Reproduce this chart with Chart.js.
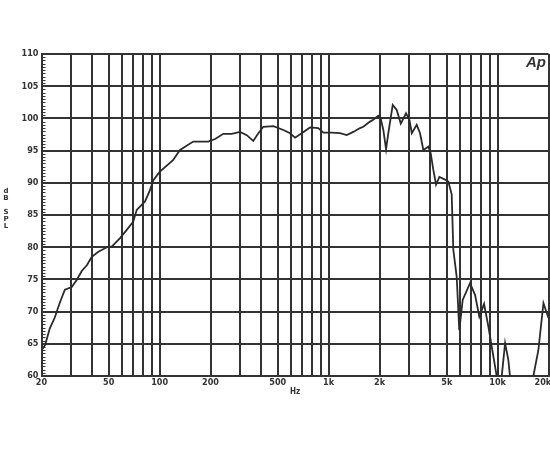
<!DOCTYPE html>
<html>
<head>
<meta charset="utf-8">
<script src="https://cdn.jsdelivr.net/npm/chart.js@4"></script>
<style>
  html, body { margin: 0; padding: 0; background: #fff; }
  #wrap { width: 550px; height: 450px; }
</style>
</head>
<body>
<div id="wrap"><canvas id="resp" width="550" height="450"></canvas></div>
<script>
// frequency response (Hz / dB SPL)
const freqs = [20, 21, 22.4, 23.9, 25.6, 27.5, 30.2, 32.3, 34.6, 37.1, 39.7, 43.4, 49.7, 52.1, 58.3, 63.9, 69.9, 73.2, 82, 87.8,
    91.8, 100, 120, 132, 158, 194, 213, 238, 267, 299, 328, 358, 384, 411, 471, 540, 591, 633, 693, 776,
    869, 931, 1043, 1167, 1280, 1400, 1534, 1604, 1758, 1837, 1967, 2032, 2107, 2187, 2255, 2395, 2529, 2672, 2871, 3005,
    3105, 3322, 3475, 3634, 3890, 4017, 4165, 4322, 4521, 4885, 5108, 5348, 5468, 5725, 5930, 6213, 6863, 7353, 7793, 8312,
    8813, 9885, 10300, 11070, 11570, 11840, 13500, 16270, 17420, 18670, 20000];
const spl = [64.0, 64.8, 67.4, 69.0, 71.3, 73.4, 73.8, 74.9, 76.3, 77.2, 78.5, 79.3, 80.1, 80.1, 81.4, 82.7, 84.0, 85.8, 87.1, 88.9,
    90.4, 91.7, 93.5, 95.1, 96.4, 96.4, 96.8, 97.6, 97.6, 97.9, 97.4, 96.5, 97.7, 98.7, 98.8, 98.2, 97.7, 97.0, 97.7, 98.6,
    98.5, 97.8, 97.8, 97.7, 97.4, 97.9, 98.5, 98.7, 99.5, 99.8, 100.4, 100.0, 98.2, 95.2, 97.7, 102.1, 101.3, 99.2, 100.8, 99.8,
    97.7, 99.0, 97.7, 95.1, 95.6, 94.6, 92.0, 89.7, 90.9, 90.5, 90.2, 88.2, 79.6, 75.4, 67.1, 71.8, 74.4, 72.6, 69.2, 71.2,
    67.7, 59.9, 57.0, 65.1, 62.5, 59.9, 54.0, 60.0, 64.0, 71.3, 69.0];

// grid / tick layout
const gridFreqs = [20, 30, 40, 50, 60, 70, 80, 90, 100, 200, 300, 400, 500, 600, 700, 800, 900,
    1000, 2000, 3000, 4000, 5000, 6000, 7000, 8000, 9000, 10000, 20000];
const xLabelFreqs = [20, 50, 100, 200, 500, 1000, 2000, 5000, 10000, 20000];
const xLabels = ["20", "50", "100", "200", "500", "1k", "2k", "5k", "10k", "20k"];
const yMin = 60, yMax = 110, yStep = 5, yMinorStep = 0.5;
const yLabelText = ["d", "B", "", "S", "P", "L"];

const ink = "#333";
const labelFont = { family: '"Liberation Sans Narrow", "DejaVu Sans Condensed", "Liberation Sans", sans-serif', size: 9, weight: "bold" };

/* extra drawing: minor ticks, dB SPL label, Ap logo */
const extras = {
    id: "extras",
    afterDraw(chart) {
        const ctx = chart.ctx;
        const y = chart.scales.y;
        const left = chart.chartArea.left;
        ctx.save();
        ctx.strokeStyle = ink;
        ctx.lineWidth = 1;
        ctx.beginPath();
        for (let v = yMin; v <= yMax; v += yMinorStep) {
            const py = Math.round(y.getPixelForValue(v)) + 0.5;
            ctx.moveTo(left, py);
            ctx.lineTo(left + 4, py);
        }
        ctx.stroke();

        ctx.fillStyle = ink;
        ctx.font = "bold 7px 'DejaVu Sans', sans-serif";
        ctx.textAlign = "center";
        ctx.textBaseline = "middle";
        yLabelText.forEach((c, i) => ctx.fillText(c, 6, 191 + i * 7));

        ctx.font = "italic bold 15px 'Liberation Sans', sans-serif";
        ctx.textAlign = "right";
        ctx.textBaseline = "alphabetic";
        ctx.fillText("Ap", 546, 67);
        ctx.restore();
    }
};

new Chart(document.getElementById("resp"), {
    type: "line",
    data: {
        labels: freqs,
        datasets: [{
            data: freqs.map((f, i) => ({ x: f, y: spl[i] })),
            borderColor: "#2a2a2a",
            borderWidth: 1.8,
            pointRadius: 0,
            tension: 0,
            fill: false
        }]
    },
    options: {
        responsive: false,
        animation: false,
        layout: { padding: { top: 54, right: 1.5, bottom: 50, left: 0 } },
        plugins: { legend: { display: false }, tooltip: { enabled: false } },
        scales: {
            x: {
                type: "logarithmic",
                min: 20,
                max: 20000,
                afterBuildTicks: s => { s.ticks = gridFreqs.map(v => ({ value: v })); },
                afterFit: s => { s.height = 24; s.paddingLeft = 0; s.paddingRight = 0; },
                grid: { color: ink, lineWidth: 2, drawTicks: false },
                border: { color: ink, width: 2 },
                ticks: {
                    autoSkip: false,
                    maxRotation: 0,
                    padding: 1,
                    color: ink,
                    font: labelFont,
                    callback: v => {
                        const i = xLabelFreqs.indexOf(v);
                        if (i < 0) return "";
                        // last label sits flush against the right edge
                        return i === xLabels.length - 1 ? xLabels[i] + "\u00a0\u00a0\u00a0\u00a0" : xLabels[i];
                    }
                },
                title: {
                    display: true,
                    text: "Hz",
                    color: ink,
                    font: { family: labelFont.family, size: 8, weight: "bold" },
                    padding: { top: 0, bottom: 3 }
                }
            },
            y: {
                min: yMin,
                max: yMax,
                afterFit: s => { s.width = 41.5; },
                grid: { color: ink, lineWidth: 2, drawTicks: false },
                border: { color: ink, width: 2 },
                ticks: { stepSize: yStep, padding: 3, color: ink, font: labelFont }
            }
        }
    },
    plugins: [extras]
});
</script>
</body>
</html>
